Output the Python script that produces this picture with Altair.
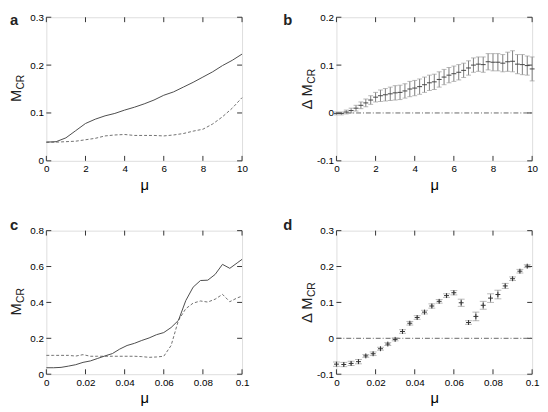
import altair as alt
import pandas as pd

# ---------------- data ----------------
mu_a = [0, 0.5, 1, 1.5, 2, 2.5, 3, 3.5, 4, 4.5, 5, 5.5, 6, 6.5, 7, 7.5, 8, 8.5, 9, 9.5, 10]
a_solid = [0.039, 0.040, 0.048, 0.063, 0.078, 0.087, 0.094, 0.099, 0.106, 0.112, 0.119,
           0.127, 0.137, 0.144, 0.154, 0.164, 0.175, 0.186, 0.199, 0.210, 0.223]
a_dashed = [0.039, 0.039, 0.040, 0.041, 0.044, 0.047, 0.052, 0.054, 0.055, 0.053, 0.053,
            0.053, 0.052, 0.054, 0.057, 0.062, 0.066, 0.077, 0.092, 0.110, 0.132]

mu_b = [0, 0.25, 0.5, 0.75, 1, 1.25, 1.5, 1.75, 2, 2.25, 2.5, 2.75, 3, 3.25, 3.5, 3.75, 4,
        4.25, 4.5, 4.75, 5, 5.25, 5.5, 5.75, 6, 6.25, 6.5, 6.75, 7, 7.25, 7.5, 7.75, 8,
        8.25, 8.5, 8.75, 9, 9.25, 9.5, 9.75, 10]
b_mean = [-0.001, -0.001, 0.002, 0.005, 0.010, 0.016, 0.021, 0.027, 0.033, 0.036, 0.038,
          0.040, 0.042, 0.043, 0.046, 0.050, 0.052, 0.055, 0.059, 0.063, 0.065, 0.070,
          0.075, 0.079, 0.082, 0.085, 0.089, 0.094, 0.100, 0.102, 0.101, 0.107, 0.106,
          0.106, 0.104, 0.107, 0.108, 0.102, 0.101, 0.099, 0.092]
b_err = [0.003, 0.003, 0.004, 0.005, 0.006, 0.007, 0.008, 0.009, 0.010, 0.012, 0.013,
         0.014, 0.015, 0.015, 0.015, 0.016, 0.016, 0.016, 0.016, 0.016, 0.016, 0.016,
         0.016, 0.016, 0.016, 0.016, 0.015, 0.015, 0.015, 0.015, 0.016, 0.017, 0.018,
         0.018, 0.018, 0.020, 0.022, 0.020, 0.021, 0.020, 0.025]

mu_d = [0, 0.00375, 0.0075, 0.01125, 0.015, 0.01875, 0.0225, 0.02625, 0.03, 0.03375,
        0.0375, 0.04125, 0.045, 0.04875, 0.0525, 0.05625, 0.06, 0.06375, 0.0675, 0.07125,
        0.075, 0.07875, 0.0825, 0.08625, 0.09, 0.09375, 0.0975]
d_mean = [-0.072, -0.073, -0.070, -0.065, -0.049, -0.043, -0.029, -0.016, -0.003, 0.019,
          0.042, 0.058, 0.073, 0.090, 0.103, 0.119, 0.127, 0.099, 0.044, 0.061, 0.092,
          0.112, 0.122, 0.146, 0.166, 0.187, 0.201]
d_err = [0.006, 0.006, 0.006, 0.006, 0.004, 0.005, 0.004, 0.004, 0.004, 0.005, 0.005,
         0.005, 0.005, 0.006, 0.005, 0.005, 0.006, 0.010, 0.005, 0.012, 0.011, 0.012,
         0.012, 0.007, 0.005, 0.005, 0.004]

mu_c = [0, 0.00375, 0.0075, 0.01125, 0.015, 0.01875, 0.0225, 0.02625, 0.03, 0.03375,
        0.0375, 0.04125, 0.045, 0.04875, 0.0525, 0.05625, 0.06, 0.06375, 0.0675, 0.07125,
        0.075, 0.07875, 0.0825, 0.08625, 0.09, 0.09375, 0.0975, 0.1]
c_solid = [0.036, 0.036, 0.038, 0.045, 0.053, 0.066, 0.074, 0.088, 0.102, 0.115, 0.140,
           0.160, 0.172, 0.188, 0.202, 0.220, 0.232, 0.260, 0.300, 0.410, 0.485, 0.522,
           0.524, 0.556, 0.612, 0.590, 0.620, 0.640]
c_dashed = [0.105, 0.105, 0.105, 0.105, 0.101, 0.109, 0.100, 0.100, 0.100, 0.100, 0.100,
            0.100, 0.100, 0.098, 0.094, 0.096, 0.100, 0.160, 0.300, 0.365, 0.396, 0.408,
            0.402, 0.418, 0.445, 0.404, 0.425, 0.435]

ticks_x_ab = [0, 2, 4, 6, 8, 10]
ticks_x_cd = [0, 0.02, 0.04, 0.06, 0.08, 0.1]
ticks_y_a = [0, 0.1, 0.2, 0.3]
ticks_y_b = [-0.1, 0, 0.1, 0.2]
ticks_y_c = [0, 0.2, 0.4, 0.6, 0.8]
ticks_y_d = [-0.1, 0, 0.1, 0.2, 0.3]

# ---------------- helpers ----------------
W, H = 199, 146
FONT = "Liberation Sans"
INK = "#222222"
FRAME = "#333333"
LBL = "'' + round(datum.value*1000)/1000"
VTICK = "M0,-1L0,1"
HTICK = "M-1,0L1,0"
PLUS = "M-1,0L1,0M0,-1L0,1"


def enc_x(xt):
    return alt.X("x:Q", scale=alt.Scale(domain=[xt[0], xt[-1]], nice=False, zero=False),
                 axis=alt.Axis(values=xt, labelExpr=LBL, title="μ", titleFontSize=15,
                               titleFontWeight="normal", titlePadding=4, labelPadding=3,
                               labelFlush=False, grid=False, gridOpacity=0,
                               ticks=False, tickSize=0, domain=False))


def enc_y(yt, field="y"):
    return alt.Y(f"{field}:Q", scale=alt.Scale(domain=[yt[0], yt[-1]], nice=False, zero=False),
                 axis=alt.Axis(values=yt, labelExpr=LBL, title=None, labelPadding=3,
                               labelFlush=False, grid=False, gridOpacity=0,
                               ticks=False, tickSize=0, domain=False))


def frame_ticks(xt, yt):
    xdf = pd.DataFrame({"x": xt})
    ydf = pd.DataFrame({"y": yt})
    X = enc_x(xt)
    Y = enc_y(yt)
    kw = dict(filled=False, size=25, strokeWidth=1, color=FRAME, opacity=1)
    return [
        alt.Chart(xdf).mark_point(shape=VTICK, **kw).encode(x=X, y=alt.value(H - 2.5)),
        alt.Chart(xdf).mark_point(shape=VTICK, **kw).encode(x=X, y=alt.value(2.5)),
        alt.Chart(ydf).mark_point(shape=HTICK, **kw).encode(y=Y, x=alt.value(2.5)),
        alt.Chart(ydf).mark_point(shape=HTICK, **kw).encode(y=Y, x=alt.value(W - 2.5)),
    ]


def texts(letter, lx, ly, main, sub, main_x, sub_x, main_y, sub_y):
    return [
        alt.Chart(pd.DataFrame({"t": [letter]})).mark_text(
            font=FONT, fontSize=15, fontWeight="bold", align="left", baseline="middle",
            color=INK).encode(text="t:N", x=alt.value(lx), y=alt.value(ly)),
        alt.Chart(pd.DataFrame({"t": [main]})).mark_text(
            font=FONT, fontSize=15, angle=270, align="center", baseline="alphabetic",
            color=INK).encode(text="t:N", x=alt.value(main_x), y=alt.value(main_y)),
        alt.Chart(pd.DataFrame({"t": [sub]})).mark_text(
            font=FONT, fontSize=10.5, angle=270, align="center", baseline="alphabetic",
            color=INK).encode(text="t:N", x=alt.value(sub_x), y=alt.value(sub_y)),
    ]


def line_panel(mu, solid, dashed, xt, yt, letter, ly):
    df_s = pd.DataFrame({"x": mu, "y": solid})
    df_d = pd.DataFrame({"x": mu, "y": dashed})
    X = enc_x(xt)
    Y = enc_y(yt)
    layers = frame_ticks(xt, yt)
    layers.append(alt.Chart(df_d).mark_line(color="#707070", strokeWidth=1,
                                            strokeDash=[3, 2]).encode(x=X, y=Y))
    layers.append(alt.Chart(df_s).mark_line(color="#4a4a4a", strokeWidth=1).encode(x=X, y=Y))
    layers += texts(letter, -37, ly, "M", "CR", -26, -23, 80, 66)
    return alt.layer(*layers).properties(width=W, height=H)


def err_panel(mu, mean, err, xt, yt, letter, ly, capw, center_shape, center_color):
    df = pd.DataFrame({"x": mu, "y": mean, "e": err})
    df["lo"] = df["y"] - df["e"]
    df["hi"] = df["y"] + df["e"]
    X = enc_x(xt)
    Y = enc_y(yt)
    layers = frame_ticks(xt, yt)
    zero = pd.DataFrame({"x": [xt[0], xt[-1]], "y": [0, 0]})
    layers.append(alt.Chart(zero).mark_line(color="#666666", strokeWidth=1,
                                            strokeDash=[5, 2, 1, 2]).encode(x=X, y=Y))
    layers.append(alt.Chart(df).mark_rule(color="#6e6e6e", strokeWidth=0.9).encode(
        x=X, y=enc_y(yt, "lo"), y2="hi:Q"))
    layers.append(alt.Chart(df).mark_tick(color="#9a9a9a", orient="horizontal", size=capw,
                                          thickness=1).encode(x=X, y=enc_y(yt, "lo")))
    layers.append(alt.Chart(df).mark_tick(color="#9a9a9a", orient="horizontal", size=capw,
                                          thickness=1).encode(x=X, y=enc_y(yt, "hi")))
    layers.append(alt.Chart(df).mark_point(shape=center_shape, size=25, filled=False,
                                           strokeWidth=1, color=center_color, opacity=1).encode(
        x=X, y=Y))
    layers += texts(letter, -54, ly, "Δ M", "CR", -25, -22, 81, 60)
    return alt.layer(*layers).properties(width=W, height=H)


pa = line_panel(mu_a, a_solid, a_dashed, ticks_x_ab, ticks_y_a, "a", 3)
pb = err_panel(mu_b, b_mean, b_err, ticks_x_ab, ticks_y_b, "b", 3, 5, HTICK, "#444444")
pc = line_panel(mu_c, c_solid, c_dashed, ticks_x_cd, ticks_y_c, "c", -6)
pd_ = err_panel(mu_d, d_mean, d_err, ticks_x_cd, ticks_y_d, "d", -6, 7, PLUS, "#333333")

chart = alt.concat(pa, pb, pc, pd_, columns=2, spacing={"row": 71, "column": 96},
                   bounds="flush").properties(padding=0).configure_view(
    stroke=FRAME, strokeWidth=1).configure_axis(
    labelFont=FONT, labelFontSize=11, labelColor=INK, titleFont=FONT, titleColor=INK,
    grid=False, gridOpacity=0, domain=False, ticks=False, tickSize=0).configure(
    background="white")

chart.save("out.html", embed_options={"renderer": "svg", "actions": False})
